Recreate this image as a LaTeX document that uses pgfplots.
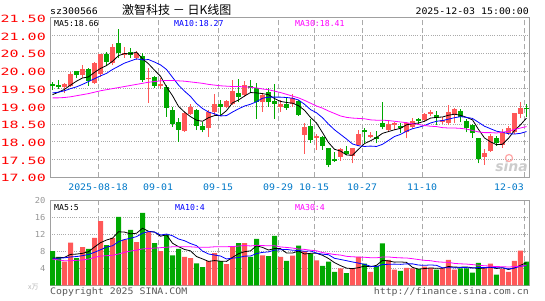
\documentclass[border=0pt]{standalone}
\usepackage{pgfplots}
\pgfplotsset{compat=1.18}
\usepackage{pgfplotstable}
\usepackage{fontspec}
\setmainfont{DejaVu Sans Mono}
\newfontfamily\pricefont{DejaVu Sans Mono}[FakeStretch=1.5]
\newfontfamily\datefont{DejaVu Sans Mono}[FakeStretch=1.1]
\newfontfamily\volfont{DejaVu Sans Mono}[FakeStretch=1.07]
\newfontfamily\sinafont{DejaVu Sans}
\newfontfamily\cjk{Noto Sans CJK SC}
\definecolor{cred}{RGB}{255,88,88}
\definecolor{cgreen}{RGB}{0,168,0}
\definecolor{pricered}{RGB}{255,0,0}
\definecolor{datecol}{RGB}{0,120,200}
\definecolor{framegray}{RGB}{160,160,160}
\definecolor{gridgray}{RGB}{170,170,170}
\definecolor{volgray}{RGB}{150,150,150}
\definecolor{magenta2}{RGB}{255,0,255}

% i O H L C V
\pgfplotstableread{
i O H L C V
2 19.54 19.65 19.37 19.62 5.6
3 19.58 19.96 19.55 19.90 10.1
5 19.88 20.17 19.79 20.05 9.0
7 19.65 20.24 19.62 20.23 11.2
8 19.90 20.49 19.84 20.48 15.2
10 20.21 20.75 20.18 20.68 11.2
12 20.45 20.68 20.37 20.51 10.8
14 20.37 20.56 20.31 20.50 10.2
16 19.76 20.07 19.10 19.81 12.6
18 19.58 19.79 19.49 19.64 8.1
22 18.30 18.85 18.29 18.80 6.7
23 18.78 19.08 18.76 18.99 6.4
26 18.38 18.90 18.13 18.85 5.7
27 18.85 19.36 18.76 19.06 7.6
29 18.99 19.17 18.94 19.15 5.0
30 19.06 19.75 19.04 19.43 9.0
32 19.32 19.71 19.27 19.60 10.0
35 19.11 19.36 18.85 19.32 7.1
38 18.99 19.17 18.85 19.08 6.7
40 19.06 19.36 18.99 19.24 7.0
42 18.19 18.52 17.67 18.43 8.1
44 18.10 18.21 17.77 18.17 5.9
48 17.58 17.84 17.47 17.80 4.0
50 17.61 17.83 17.39 17.82 4.0
51 17.91 18.33 17.89 18.23 6.7
53 18.14 18.29 18.10 18.19 3.2
56 18.33 18.59 18.29 18.49 6.0
57 18.47 18.57 18.33 18.52 3.7
59 18.29 18.57 18.10 18.54 4.1
60 18.43 18.66 18.40 18.59 4.0
62 18.61 18.80 18.57 18.78 4.4
63 18.79 18.90 18.74 18.84 4.1
65 18.57 18.70 18.50 18.61 4.0
66 18.52 19.04 18.47 18.85 6.0
67 18.77 18.94 18.52 18.92 3.7
72 17.58 17.80 17.35 17.69 4.0
73 17.75 18.21 17.72 18.17 5.1
75 17.91 18.35 17.82 18.29 3.9
76 18.24 18.45 18.19 18.40 3.2
77 18.27 18.81 18.21 18.80 5.8
78 18.79 19.11 18.66 18.95 8.2
}\redtab

\pgfplotstableread{
i O H L C V
0 19.62 19.68 19.46 19.58 8.1
1 19.60 19.74 19.49 19.55 6.7
4 20.00 20.01 19.79 19.88 6.4
6 20.05 20.09 19.58 19.72 8.6
9 20.47 20.52 20.15 20.26 9.5
11 20.79 21.18 20.37 20.50 16.2
13 20.52 20.65 20.35 20.45 13.1
15 20.43 20.50 19.70 19.74 17.1
17 19.83 19.86 19.51 19.58 10.0
19 19.55 19.60 18.71 18.96 11.9
20 18.90 18.99 18.43 18.49 7.1
21 18.55 18.66 18.00 18.33 8.6
24 18.90 18.92 18.33 18.45 5.2
25 18.45 18.55 18.27 18.33 4.3
28 19.08 19.18 18.76 18.99 5.7
31 19.39 19.77 19.11 19.27 10.0
33 19.57 19.74 19.37 19.51 6.7
34 19.53 19.65 18.64 19.11 11.0
36 19.41 19.51 18.99 19.11 6.9
37 19.15 19.63 18.64 19.06 11.7
39 19.06 19.23 18.90 18.96 5.8
41 19.15 19.18 18.74 18.76 9.4
43 18.45 18.64 17.98 18.05 7.5
45 18.14 18.17 17.77 17.89 4.6
46 17.82 17.83 17.28 17.35 5.6
47 17.52 17.72 17.44 17.47 3.2
49 17.74 17.88 17.63 17.65 2.9
52 18.33 18.38 17.96 18.27 5.1
54 18.14 18.31 17.96 18.07 4.6
55 18.52 19.11 18.35 18.43 9.9
58 18.44 18.54 18.24 18.40 3.4
61 18.63 18.66 18.47 18.59 3.9
64 18.76 18.87 18.47 18.66 3.7
68 18.88 18.92 18.55 18.70 4.0
69 18.59 18.64 18.27 18.38 4.0
70 18.47 18.50 18.12 18.24 3.0
71 18.10 18.12 17.39 17.52 5.3
74 18.10 18.17 17.89 17.96 2.5
79 18.94 19.06 18.71 18.92 5.6
}\greentab

\pgfplotstableread{
i ma5 ma10 ma30 v5 v10 v30
0 19.33 19.38 19.24 6.4 6.4 6.2
1 19.40 19.40 19.24 6.5 6.4 6.0
2 19.48 19.44 19.25 6.6 6.5 5.8
3 19.60 19.50 19.27 7.3 6.7 5.8
4 19.71 19.55 19.30 7.38 6.8 5.9
5 19.80 19.62 19.33 7.56 7.0 6.0
6 19.83 19.70 19.36 7.94 7.3 6.2
7 19.96 19.78 19.40 9.06 7.8 6.6
8 20.07 19.86 19.44 10.08 8.4 6.9
9 20.15 19.93 19.47 10.70 9.04 7.0
10 20.27 20.04 19.50 11.14 9.35 7.1
11 20.43 20.13 19.53 12.66 10.30 7.4
12 20.49 20.22 19.56 12.58 10.82 7.8
13 20.48 20.28 19.59 12.16 11.12 8.1
14 20.53 20.34 19.62 12.30 11.50 8.3
15 20.34 20.31 19.65 13.48 12.31 8.6
16 20.20 20.32 19.68 12.76 12.71 8.7
17 20.02 20.25 19.70 12.60 12.59 8.8
18 19.85 20.17 19.72 11.60 11.88 8.9
19 19.55 20.04 19.73 11.94 12.12 9.0
20 19.30 19.82 19.73 9.94 11.71 9.1
21 19.00 19.60 19.72 9.14 10.95 9.1
22 18.84 19.43 19.71 8.48 10.54 9.1
23 18.71 19.28 19.69 8.14 9.87 9.1
24 18.61 19.08 19.67 6.80 9.37 9.0
25 18.58 18.94 19.65 6.24 8.09 9.0
26 18.68 18.84 19.62 5.66 7.40 9.0
27 18.74 18.79 19.60 5.84 7.16 9.1
28 18.74 18.73 19.58 5.70 6.92 9.1
29 18.88 18.74 19.57 5.66 6.23 9.13
30 19.10 18.84 19.56 6.60 6.42 9.16
31 19.18 18.93 19.56 7.46 6.56 9.27
32 19.29 19.01 19.55 7.94 6.89 9.42
33 19.39 19.06 19.54 8.14 6.92 9.30
34 19.38 19.13 19.52 9.34 7.50 9.46
35 19.36 19.23 19.49 8.96 7.78 9.39
36 19.33 19.26 19.47 8.34 7.90 9.34
37 19.22 19.26 19.43 8.68 8.31 9.35
38 19.14 19.26 19.39 8.68 8.41 9.07
39 19.11 19.25 19.34 7.64 8.49 8.95
40 19.09 19.23 19.29 7.62 8.29 8.81
41 19.02 19.18 19.24 8.12 8.23 8.58
42 18.89 19.06 19.17 7.40 8.04 8.49
43 18.69 18.91 19.09 7.56 8.12 8.30
44 18.53 18.82 19.01 7.58 7.61 8.16
45 18.26 18.68 18.95 7.10 7.36 7.74
46 17.98 18.50 18.87 6.34 7.23 7.51
47 17.79 18.34 18.80 5.36 6.38 7.28
48 17.74 18.21 18.73 4.66 6.11 7.15
49 17.63 18.08 18.69 4.06 5.82 6.85
50 17.62 17.94 18.67 3.94 5.52 6.74
51 17.79 17.89 18.66 4.16 5.25 6.68
52 17.95 17.87 18.65 4.54 4.95 6.63
53 18.03 17.88 18.62 4.38 4.52 6.52
54 18.12 17.87 18.61 4.72 4.39 6.50
55 18.24 17.93 18.61 5.90 4.92 6.69
56 18.29 18.04 18.60 5.76 4.96 6.70
57 18.34 18.15 18.58 5.48 5.01 6.57
58 18.38 18.21 18.56 5.52 4.95 6.49
59 18.48 18.30 18.54 5.42 5.07 6.46
60 18.51 18.37 18.51 4.24 5.07 6.29
61 18.53 18.41 18.49 3.82 4.79 6.09
62 18.58 18.46 18.46 3.96 4.72 5.90
63 18.67 18.53 18.44 4.10 4.81 5.82
64 18.69 18.58 18.43 4.02 4.72 5.57
65 18.70 18.60 18.40 4.02 4.13 5.47
66 18.75 18.64 18.39 4.44 4.13 5.44
67 18.78 18.68 18.39 4.30 4.13 5.17
68 18.75 18.71 18.38 4.28 4.19 5.08
69 18.69 18.69 18.36 4.34 4.18 5.02
70 18.62 18.66 18.32 4.14 4.08 4.89
71 18.35 18.55 18.28 4.00 4.22 4.75
72 18.11 18.44 18.26 4.06 4.18 4.62
73 18.00 18.37 18.26 4.28 4.28 4.54
74 17.92 18.30 18.25 3.98 4.16 4.42
75 17.93 18.27 18.27 4.16 4.15 4.40
76 18.10 18.23 18.30 3.74 3.87 4.32
77 18.32 18.22 18.35 4.10 4.08 4.41
78 18.48 18.24 18.39 4.72 4.50 4.55
79 18.67 18.29 18.43 5.34 4.66 4.64
}\matab

\pgfplotsset{
  kpanel/.style={
    scale only axis, width=479pt,
    xmin=-0.42, xmax=79.42,
    axis line style={draw=framegray, line width=1pt},
    major tick length=0pt,
    xtick={7.6,17.6,27.6,37.6,43.6,51.6,61.6,78.6},
    xmajorgrids, ymajorgrids,
    major x grid style={draw=gridgray, line width=0.9pt, dash pattern=on 5pt off 3pt},
    major y grid style={draw=gridgray, line width=0.7pt, dash pattern=on 1pt off 1.2pt},
    /pgf/number format/assume math mode=true,
  },
  wick/.style={draw=none, mark=none, forget plot,
    error bars/.cd, y dir=plus, y explicit, error mark=none,
    error bar style={line width=1pt, draw=#1, solid}},
  body/.style={draw=none, mark=none, forget plot,
    error bars/.cd, y dir=plus, y explicit, error mark=none,
    error bar style={line width=5pt, draw=#1, solid}},
}

\begin{document}
\begin{tikzpicture}[x=1pt,y=1pt]
\useasboundingbox (0,0) rectangle (545,300);

% ---------- price panel ----------
\begin{axis}[kpanel,
  at={(50pt,122.7pt)}, anchor=south west, height=159.6pt,
  ymin=17, ymax=21.5,
  ytick={17,17.5,18,18.5,19,19.5,20,20.5,21,21.5},
  yticklabels={17.00,17.50,18.00,18.50,19.00,19.50,20.00,20.50,21.00,21.50},
  yticklabel style={anchor=east, inner sep=0pt, xshift=-4pt, yshift=-1pt,
    font=\pricefont\fontsize{10}{10}\selectfont, text=pricered},
  xticklabels={2025-08-18,09-01,09-15,09-29,10-15,10-27,11-10,},
  xticklabel style={anchor=north, inner sep=0pt, yshift=-6pt,
    font=\datefont\fontsize{9}{9}\selectfont, text=datecol},
  extra x ticks={78.6}, extra x tick labels={12-03},
  extra x tick style={xticklabel style={anchor=north east}},
]
\addplot[wick=cred] table[x=i, y=L, y error plus expr=\thisrow{H}-\thisrow{L}] {\redtab};
\addplot[wick=cgreen] table[x=i, y=L, y error plus expr=\thisrow{H}-\thisrow{L}] {\greentab};
\addplot[body=cred] table[x=i, y=O, y error plus expr=\thisrow{C}-\thisrow{O}] {\redtab};
\addplot[body=cgreen] table[x=i, y=C, y error plus expr=\thisrow{O}-\thisrow{C}] {\greentab};
\addplot[black, line width=0.8pt, mark=none] table[x=i, y=ma5] {\matab};
\addplot[blue, line width=0.8pt, mark=none] table[x=i, y=ma10] {\matab};
\addplot[magenta2, line width=0.8pt, mark=none] table[x=i, y=ma30] {\matab};
\end{axis}

% ---------- volume panel ----------
\begin{axis}[kpanel,
  at={(50pt,14.7pt)}, anchor=south west, height=84.6pt,
  ymin=0, ymax=20,
  ytick={4,8,12,16,20}, yticklabels={4,8,12,16,20},
  yticklabel style={anchor=east, inner sep=0pt, xshift=-4.3pt,
    font=\volfont\fontsize{8.2}{8.2}\selectfont, text=volgray},
  xticklabels={},
]
\addplot[ybar, bar width=5pt, bar shift=0pt, fill=cred, draw=none] table[x=i, y=V] {\redtab};
\addplot[ybar, bar width=5pt, bar shift=0pt, fill=cgreen, draw=none] table[x=i, y=V] {\greentab};
\addplot[black, line width=0.8pt, mark=none] table[x=i, y=v5] {\matab};
\addplot[blue, line width=0.8pt, mark=none] table[x=i, y=v10] {\matab};
\addplot[magenta2, line width=0.8pt, mark=none] table[x=i, y=v30] {\matab};
\end{axis}

% ---------- texts ----------
\node[anchor=base west, inner sep=0pt, font=\datefont\fontsize{9}{9}\selectfont] at (50,285) {sz300566};
\node[anchor=base west, inner sep=0pt, font=\cjk\fontsize{12}{12}\selectfont] at (122,285.5) {激智科技 － 日K线图};
\node[anchor=base east, inner sep=0pt, font=\datefont\fontsize{9}{9}\selectfont] at (529,285) {2025-12-03 15:00:00};

\node[anchor=base west, inner sep=0pt, font=\fontsize{8.2}{8.2}\selectfont] at (54,273.3) {MA5:18.66};
\node[anchor=base west, inner sep=0pt, font=\fontsize{8.2}{8.2}\selectfont, text=blue] at (174,273.3) {MA10:18.27};
\node[anchor=base west, inner sep=0pt, font=\fontsize{8.2}{8.2}\selectfont, text=magenta2] at (295,273.3) {MA30:18.41};

\node[anchor=base west, inner sep=0pt, font=\fontsize{8.2}{8.2}\selectfont] at (54,90) {MA5:5};
\node[anchor=base west, inner sep=0pt, font=\fontsize{8.2}{8.2}\selectfont, text=blue] at (175,90) {MA10:4};
\node[anchor=base west, inner sep=0pt, font=\fontsize{8.2}{8.2}\selectfont, text=magenta2] at (295,90) {MA30:4};

\node[anchor=base west, inner sep=0pt, font=\cjk\fontsize{7}{7}\selectfont, text=volgray!70] at (28,11) {x万};
\node[anchor=base west, inner sep=0pt, font=\datefont\fontsize{9}{9}\selectfont, text=black!65] at (50,5.7) {Copyright 2025 SINA.COM};
\node[anchor=base east, inner sep=0pt, font=\datefont\fontsize{9}{9}\selectfont, text=black!65] at (529,5.7) {http://finance.sina.com.cn};

% sina watermark
\node[anchor=base east, inner sep=0pt, font=\sinafont\bfseries\itshape\fontsize{14}{14}\selectfont, text=black!20] at (528,128.5) {sina};
\draw[red!35, line width=1.2pt] (509,142) circle (3.5);
\end{tikzpicture}
\end{document}
